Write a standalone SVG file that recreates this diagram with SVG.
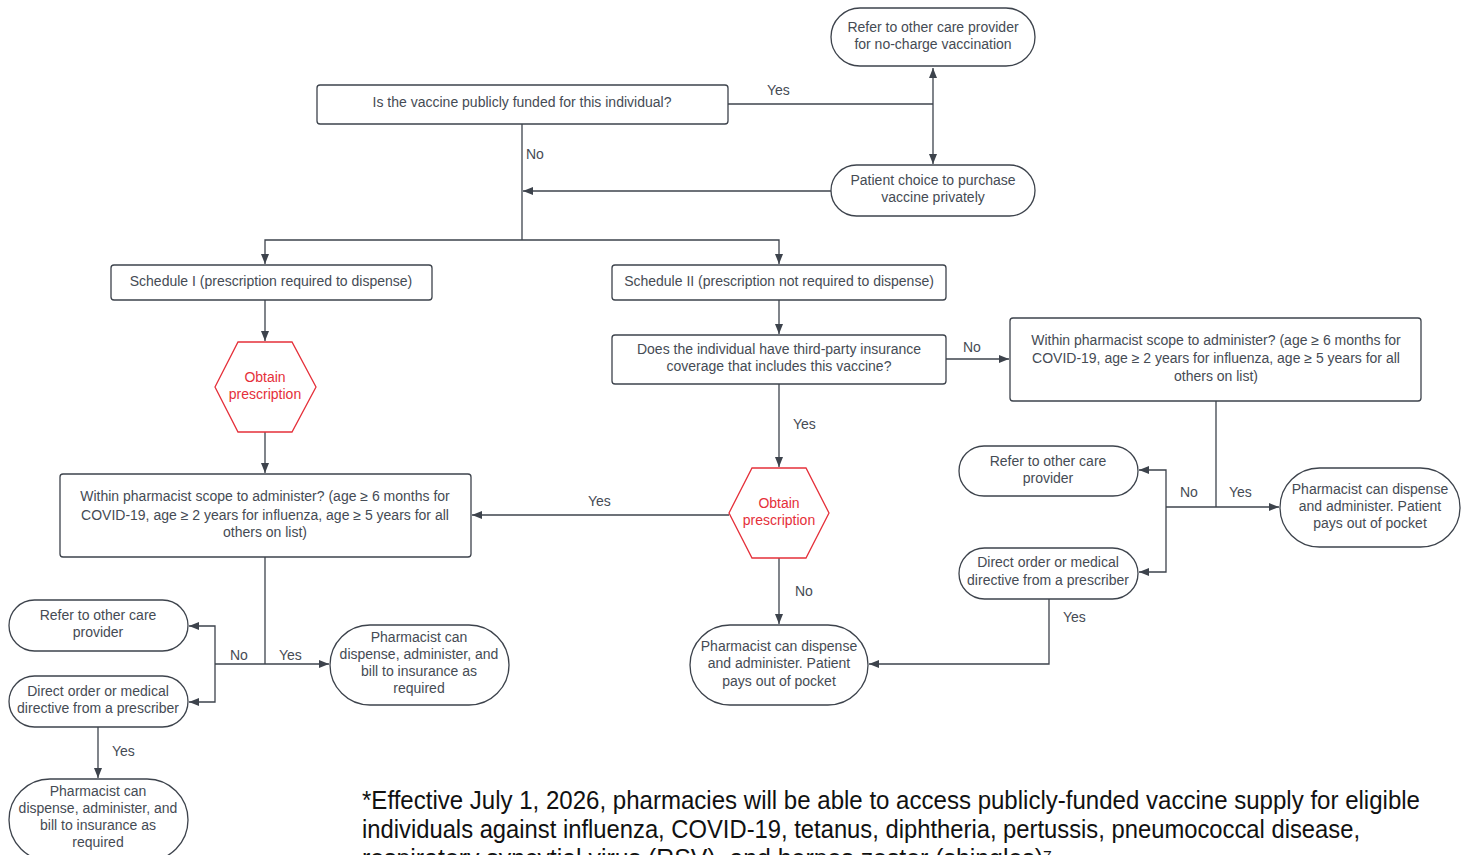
<svg xmlns="http://www.w3.org/2000/svg" width="1465" height="855" viewBox="0 0 1465 855">
<style>
.box{fill:#fff;stroke:#3d434c;stroke-width:1.3}
.hex{fill:#fff;stroke:#e5303a;stroke-width:1.3}
.t{font-family:"Liberation Sans",Arial,sans-serif;font-size:14px;fill:#454b54;text-anchor:middle}
.r{fill:#e5303a}
.lbl{font-family:"Liberation Sans",Arial,sans-serif;font-size:14px;fill:#454b54}
.c{fill:none;stroke:#3d434c;stroke-width:1.3}
.a{marker-end:url(#ah)}
.fn{font-family:"Liberation Sans",Arial,sans-serif;font-size:25px;fill:#111}
</style>
<defs>
<marker id="ah" viewBox="0 0 10 10" refX="10" refY="5" markerWidth="10" markerHeight="10" markerUnits="userSpaceOnUse" orient="auto"><path d="M0,1 L10,5 L0,9 z" fill="#3d434c"/></marker>
</defs>
<rect width="1465" height="855" fill="#fff"/>
<g id="connectors">
<path class="c" d="M728,104 H933"/>
<path class="c a" d="M933,104 V68"/>
<path class="c a" d="M933,104 V164"/>
<path class="c" d="M522,124 V240"/>
<path class="c a" d="M831,191 H523"/>
<path class="c a" d="M522,240 H265 V264"/>
<path class="c a" d="M522,240 H779 V264"/>
<path class="c a" d="M265,300 V341"/>
<path class="c a" d="M265,432 V473"/>
<path class="c a" d="M779,300 V334"/>
<path class="c a" d="M946,359 H1009"/>
<path class="c a" d="M779,384 V467"/>
<path class="c a" d="M729,515 H472"/>
<path class="c a" d="M779,558 V624"/>
<path class="c" d="M1216,401 V507"/>
<path class="c a" d="M1216,507 H1279"/>
<path class="c" d="M1216,507 H1166"/>
<path class="c a" d="M1166,507 V470 H1139"/>
<path class="c a" d="M1166,507 V572 H1139"/>
<path class="c a" d="M1049,599 V664 H869"/>
<path class="c" d="M265,557 V664"/>
<path class="c a" d="M265,664 H329"/>
<path class="c" d="M265,664 H215"/>
<path class="c a" d="M215,664 V626 H189"/>
<path class="c a" d="M215,664 V702 H189"/>
<path class="c a" d="M98,727 V778"/>
<text class="lbl" x="767" y="95">Yes</text>
<text class="lbl" x="526" y="159">No</text>
<text class="lbl" x="963" y="352">No</text>
<text class="lbl" x="793" y="429">Yes</text>
<text class="lbl" x="588" y="506">Yes</text>
<text class="lbl" x="795" y="596">No</text>
<text class="lbl" x="1180" y="497">No</text>
<text class="lbl" x="1229" y="497">Yes</text>
<text class="lbl" x="1063" y="622">Yes</text>
<text class="lbl" x="230" y="660">No</text>
<text class="lbl" x="279" y="660">Yes</text>
<text class="lbl" x="112" y="756">Yes</text>
</g>
<g id="n1"><rect class="box" x="831" y="8" width="204" height="58" rx="29"/>
<text class="t" x="933" y="32">Refer to other care provider</text><text class="t" x="933" y="49">for no-charge vaccination</text></g>
<g id="n2"><rect class="box" x="317" y="85" width="411" height="39" rx="3"/>
<text class="t" x="522" y="107">Is the vaccine publicly funded for this individual?</text></g>
<g id="n3"><rect class="box" x="831" y="165" width="204" height="51" rx="25.5"/>
<text class="t" x="933" y="185">Patient choice to purchase</text><text class="t" x="933" y="202">vaccine privately</text></g>
<g id="n4"><rect class="box" x="111" y="265" width="321" height="35" rx="3"/>
<text class="t" x="271" y="286">Schedule I (prescription required to dispense)</text></g>
<g id="n5"><rect class="box" x="612" y="265" width="334" height="35" rx="3"/>
<text class="t" x="779" y="286">Schedule II (prescription not required to dispense)</text></g>
<g id="n6"><polygon class="hex" points="215,387 238,342 292,342 316,387 292,432 238,432"/>
<text class="t r" x="265" y="382">Obtain</text><text class="t r" x="265" y="399">prescription</text></g>
<g id="n7"><rect class="box" x="612" y="335" width="334" height="49" rx="3"/>
<text class="t" x="779" y="354">Does the individual have third-party insurance</text><text class="t" x="779" y="371">coverage that includes this vaccine?</text></g>
<g id="n8"><rect class="box" x="1010" y="318" width="411" height="83" rx="3"/>
<text class="t" x="1216" y="345">Within pharmacist scope to administer? (age ≥ 6 months for</text><text class="t" x="1216" y="363">COVID-19, age ≥ 2 years for influenza, age ≥ 5 years for all</text><text class="t" x="1216" y="381">others on list)</text></g>
<g id="n9"><rect class="box" x="60" y="474" width="411" height="83" rx="3"/>
<text class="t" x="265" y="501">Within pharmacist scope to administer? (age ≥ 6 months for</text><text class="t" x="265" y="520">COVID-19, age ≥ 2 years for influenza, age ≥ 5 years for all</text><text class="t" x="265" y="537">others on list)</text></g>
<g id="n10"><polygon class="hex" points="729,513 752,468 806,468 829,513 806,558 752,558"/>
<text class="t r" x="779" y="508">Obtain</text><text class="t r" x="779" y="525">prescription</text></g>
<g id="n11"><rect class="box" x="959" y="446" width="179" height="50" rx="25"/>
<text class="t" x="1048" y="466">Refer to other care</text><text class="t" x="1048" y="483">provider</text></g>
<g id="n12"><rect class="box" x="1280" y="468" width="180" height="79" rx="39.5"/>
<text class="t" x="1370" y="494">Pharmacist can dispense</text><text class="t" x="1370" y="511">and administer. Patient</text><text class="t" x="1370" y="528">pays out of pocket</text></g>
<g id="n13"><rect class="box" x="959" y="548" width="179" height="51" rx="25.5"/>
<text class="t" x="1048" y="567">Direct order or medical</text><text class="t" x="1048" y="585">directive from a prescriber</text></g>
<g id="n14"><rect class="box" x="690" y="625" width="178" height="80" rx="40"/>
<text class="t" x="779" y="651">Pharmacist can dispense</text><text class="t" x="779" y="668">and administer. Patient</text><text class="t" x="779" y="686">pays out of pocket</text></g>
<g id="n15"><rect class="box" x="9" y="600" width="179" height="51" rx="25.5"/>
<text class="t" x="98" y="620">Refer to other care</text><text class="t" x="98" y="637">provider</text></g>
<g id="n16"><rect class="box" x="330" y="625" width="179" height="80" rx="40"/>
<text class="t" x="419" y="642">Pharmacist can</text><text class="t" x="419" y="659">dispense, administer, and</text><text class="t" x="419" y="676">bill to insurance as</text><text class="t" x="419" y="693">required</text></g>
<g id="n17"><rect class="box" x="9" y="676" width="179" height="51" rx="25.5"/>
<text class="t" x="98" y="696">Direct order or medical</text><text class="t" x="98" y="713">directive from a prescriber</text></g>
<g id="n18"><rect class="box" x="9" y="779" width="179" height="82" rx="41"/>
<text class="t" x="98" y="796">Pharmacist can</text><text class="t" x="98" y="813">dispense, administer, and</text><text class="t" x="98" y="830">bill to insurance as</text><text class="t" x="98" y="847">required</text></g>
<g id="footnote">
<text class="fn" x="362" y="809" textLength="1058" lengthAdjust="spacingAndGlyphs">*Effective July 1, 2026, pharmacies will be able to access publicly-funded vaccine supply for eligible</text>
<text class="fn" x="362" y="838" textLength="998" lengthAdjust="spacingAndGlyphs">individuals against influenza, COVID-19, tetanus, diphtheria, pertussis, pneumococcal disease,</text>
<text class="fn" x="362" y="867" textLength="690" lengthAdjust="spacingAndGlyphs">respiratory syncytial virus (RSV), and herpes zoster (shingles)⁷</text>
</g>
</svg>
